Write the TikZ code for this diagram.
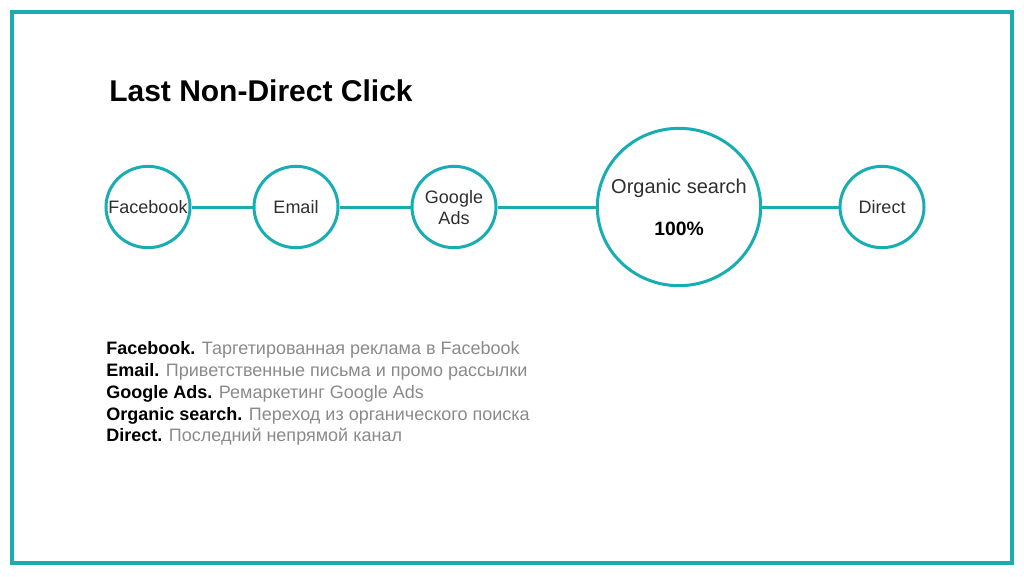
\documentclass[tikz,border=0pt]{standalone}
\usepackage{fontspec}
\setmainfont{Liberation Sans}
\usetikzlibrary{shapes.geometric}
\definecolor{brandteal}{HTML}{17ADB3}
\definecolor{labelgray}{HTML}{2E2E2E}
\definecolor{descgray}{HTML}{8A8A8A}
\begin{document}
\begin{tikzpicture}[x=0.75pt,y=-0.75pt,
  circ/.style={ellipse,draw=brandteal,line width=2.25pt,inner sep=0pt,minimum width=63pt,minimum height=61pt},
  bigcirc/.style={circ,minimum width=122.5pt,minimum height=118pt},
  link/.style={draw=brandteal,line width=2.25pt},
  lbl/.style={anchor=base,font=\fontsize{13.5}{16}\selectfont,text=labelgray,inner sep=0pt},
  desc/.style={anchor=base west,font=\fontsize{13.5}{16}\selectfont,text=descgray,inner sep=0pt}]
\useasboundingbox (0,0) rectangle (1024,576);
\draw[brandteal,line width=3pt] (12,12) rectangle (1012,563);
\node[anchor=base west,font=\bfseries\fontsize{22.5}{27}\selectfont,inner sep=0pt] (title) at (109,101) {Last Non-Direct Click};
% circles
\node[circ] (fb) at (148,207) {};
\node[circ] (em) at (296,207) {};
\node[circ] (ga) at (454,207) {};
\node[bigcirc] (os) at (679,207) {};
\node[circ] (di) at (882,207) {};
% connectors
\draw[link] (fb) -- (em);
\draw[link] (em) -- (ga);
\draw[link] (ga) -- (os);
\draw[link] (os) -- (di);
% labels
\node[lbl] (tfb) at (148,213.5) {Facebook};
\node[lbl] (tem) at (296,213.5) {Email};
\node[lbl] (tga1) at (454,203) {Google};
\node[lbl] (tga2) at (454,224.5) {Ads};
\node[lbl,font=\fontsize{15}{18}\selectfont] (tos1) at (679,193) {Organic search};
\node[lbl,text=black,font=\bfseries\fontsize{14.5}{17}\selectfont] (tos2) at (679,235) {100\%};
\node[lbl] (tdi) at (882,213.5) {Direct};
% descriptions
\node[desc] (d1) at (106,354) {\textcolor{black}{\bfseries Facebook.} Таргетированная реклама в Facebook};
\node[desc] (d2) at (106,376) {\textcolor{black}{\bfseries Email.} Приветственные письма и промо рассылки};
\node[desc] (d3) at (106,398) {\textcolor{black}{\bfseries Google Ads.} Ремаркетинг Google Ads};
\node[desc] (d4) at (106,420) {\textcolor{black}{\bfseries Organic search.} Переход из органического поиска};
\node[desc] (d5) at (106,441.5) {\textcolor{black}{\bfseries Direct.} Последний непрямой канал};
\end{tikzpicture}
\end{document}
